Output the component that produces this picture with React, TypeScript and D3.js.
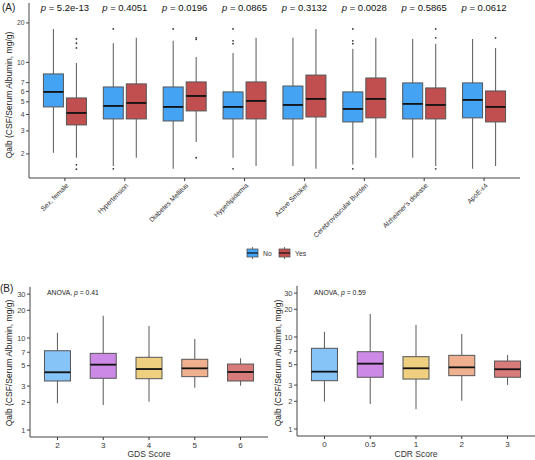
import React from "react";
import * as d3 from "d3";

// ---------- Panel A data ----------
const riskFactors = [
  "Sex, female", "Hypertension", "Diabetes Mellitus", "Hyperlipidemia",
  "Active Smoker", "Cerebrovascular Burden", "Alzheimer's disease", "ApoE-ε4",
];
const pValues = ["5.2e-13", "0.4051", "0.0196", "0.0865", "0.3132", "0.0028", "0.5865", "0.0612"];
const groups = ["No", "Yes"];
// [whiskerLow, q1, median, q3, whiskerHigh]
const statsNo = [
  [2.04, 4.57, 5.95, 8.16, 18.0],
  [1.62, 3.70, 4.65, 6.49, 14.0],
  [1.54, 3.57, 4.57, 6.49, 14.6],
  [1.87, 3.70, 4.57, 5.95, 11.8],
  [1.62, 3.70, 4.73, 6.60, 15.4],
  [1.66, 3.51, 4.41, 5.95, 12.7],
  [1.87, 3.70, 4.82, 6.97, 15.1],
  [1.54, 3.77, 5.17, 6.97, 15.1],
];
const statsYes = [
  [1.87, 3.33, 4.11, 5.35, 9.9],
  [1.87, 3.70, 4.90, 6.85, 15.4],
  [2.47, 4.26, 5.54, 7.09, 11.0],
  [1.62, 3.70, 5.08, 7.09, 15.4],
  [1.54, 3.83, 5.26, 8.0, 18.0],
  [1.87, 3.77, 5.26, 7.6, 15.4],
  [1.62, 3.70, 4.73, 6.38, 13.9],
  [1.62, 3.51, 4.57, 6.05, 12.9],
];
const outliersNo = [
  [],
  [18.0, 1.54],
  [18.0],
  [18.0, 14.6, 13.9, 1.54],
  [],
  [18.0, 14.6, 13.9, 1.54],
  [],
  [],
];
const outliersYes = [
  [15.1, 14.0, 12.9, 1.65, 1.53],
  [],
  [15.4, 15.0, 1.87],
  [],
  [],
  [],
  [18.0, 15.4, 1.54],
  [15.4],
];
const ticksA = [2, 3, 4, 5, 6, 7, 10, 20];

// ---------- Panel B data ----------
const gdsScores = ["2", "3", "4", "5", "6"];
const gdsStats = [
  [1.95, 3.41, 4.24, 7.27, 11.4],
  [1.87, 3.65, 5.13, 6.81, 17.5],
  [2.03, 3.61, 4.60, 6.17, 13.5],
  [2.88, 3.80, 4.68, 5.87, 9.75],
  [3.03, 3.41, 4.27, 5.21, 6.02],
];
const cdrScores = ["0", "0.5", "1", "2", "3"];
const cdrStats = [
  [1.98, 3.35, 4.20, 7.54, 11.4],
  [1.87, 3.65, 5.13, 6.92, 17.8],
  [1.64, 3.49, 4.57, 6.11, 13.5],
  [2.03, 3.80, 4.68, 6.32, 10.8],
  [3.01, 3.65, 4.46, 5.48, 6.37],
];
const anovaP = ["0.41", "0.59"];
const ticksB = [1, 2, 3, 5, 7, 10, 20, 30];
const scoreColors = ["#86c3f7", "#cc8ae6", "#efd080", "#efb090", "#d87b7b"];

const FONT = "'Liberation Sans', Arial, Helvetica, sans-serif";
const groupColors = ["#44a3f3", "#c24f4f"];
const yLabel = "Qalb (CSF/Serum Albumin, mg/g)";

function Box({ cx, w, s, y, fill }: { cx: number; w: number; s: number[]; y: (v: number) => number; fill: string }) {
  const [lo, q1, med, q3, hi] = s;
  return (
    <g>
      <line x1={cx} x2={cx} y1={y(hi)} y2={y(q3)} stroke="#666" strokeWidth={1.1} />
      <line x1={cx} x2={cx} y1={y(q1)} y2={y(lo)} stroke="#666" strokeWidth={1.1} />
      <rect x={cx - w / 2} y={y(q3)} width={w} height={y(q1) - y(q3)} fill={fill} stroke="#555" strokeWidth={1} />
      <line x1={cx - w / 2} x2={cx + w / 2} y1={y(med)} y2={y(med)} stroke="#111" strokeWidth={1.8} />
    </g>
  );
}

function PanelA() {
  const x0 = 29, x1 = 520;
  const step = (x1 - x0) / (riskFactors.length - 1 + 1.2);
  const x = d3.scalePoint<string>().domain(riskFactors).range([x0 + 0.6 * step, x1 - 0.6 * step]);
  const y = d3.scaleLog().domain([1.31, 28.4]).range([178, 3]);
  const off = 11.5;
  const bw = 20;
  return (
    <g>
      <text x={2} y={11} fontSize={10} fontFamily={FONT} fill="#222">(A)</text>
      {riskFactors.map((rf, i) => {
        const c = x(rf)!;
        return (
          <g key={rf}>
            <Box cx={c - off} w={bw} s={statsNo[i]} y={y} fill={groupColors[0]} />
            <Box cx={c + off} w={bw} s={statsYes[i]} y={y} fill={groupColors[1]} />
            {outliersNo[i].map((v, k) => (
              <circle key={"n" + k} cx={c - off} cy={y(v)} r={0.9} fill="#333" />
            ))}
            {outliersYes[i].map((v, k) => (
              <circle key={"y" + k} cx={c + off} cy={y(v)} r={0.9} fill="#333" />
            ))}
            <text x={c} y={11} fontSize={9.5} fontFamily={FONT} textAnchor="middle" fill="#111">
              <tspan fontStyle="italic">p</tspan> = {pValues[i]}
            </text>
            <line x1={c} x2={c} y1={178} y2={181} stroke="#333" />
            <text
              transform={`translate(${c + 4},${186}) rotate(-45)`}
              fontSize={6.8}
              fontFamily={FONT}
              textAnchor="end"
              fill="#333"
            >
              {rf}
            </text>
          </g>
        );
      })}
      <line x1={x0} x2={x0} y1={3} y2={178} stroke="#444" />
      <line x1={x0} x2={x1} y1={178} y2={178} stroke="#444" />
      {ticksA.map((t) => (
        <g key={t}>
          <line x1={26} x2={29} y1={y(t)} y2={y(t)} stroke="#444" />
          <text x={24.5} y={y(t) + 2.3} fontSize={6.8} fontFamily={FONT} textAnchor="end" fill="#444">{t}</text>
        </g>
      ))}
      <text transform={`translate(12,${95}) rotate(-90)`} fontSize={8.5} fontFamily={FONT} textAnchor="middle" fill="#222">
        {yLabel}
      </text>
      {/* legend */}
      {groups.map((g, i) => {
        const lx = i === 0 ? 247 : 279;
        return (
          <g key={g}>
            <line x1={lx + 5.5} x2={lx + 5.5} y1={247} y2={259} stroke="#666" />
            <rect x={lx} y={249} width={11} height={8} fill={groupColors[i]} stroke="#555" strokeWidth={0.8} />
            <line x1={lx} x2={lx + 11} y1={253} y2={253} stroke="#111" strokeWidth={1.2} />
            <text x={lx + 16} y={255.5} fontSize={6.8} fontFamily={FONT} fill="#333">{g}</text>
          </g>
        );
      })}
    </g>
  );
}

function PanelB({
  x0, x1, yOne, yTen, axisY, cats, stats, title, p, labelX, annX, showTag,
}: {
  x0: number; x1: number; yOne: number; yTen: number; axisY: number; cats: string[]; stats: number[][];
  title: string; p: string; labelX: number; annX: number; showTag: boolean;
}) {
  const step = (x1 - x0) / (cats.length - 1 + 1.2);
  const x = d3.scalePoint<string>().domain(cats).range([x0 + 0.6 * step, x1 - 0.6 * step]);
  const per = yOne - yTen;
  const y = d3.scaleLog().domain([1, 10]).range([yOne, yTen]);
  const top = yOne - per * Math.log10(36);
  return (
    <g>
      {showTag && <text x={0} y={292} fontSize={10} fontFamily={FONT} fill="#222">(B)</text>}
      <text x={annX} y={295} fontSize={6.8} fontFamily={FONT} fill="#222">
        ANOVA, <tspan fontStyle="italic">p</tspan> = {p}
      </text>
      {cats.map((c, i) => (
        <g key={c}>
          <Box cx={x(c)!} w={26} s={stats[i]} y={y} fill={scoreColors[i]} />
          <line x1={x(c)!} x2={x(c)!} y1={axisY} y2={axisY + 3} stroke="#333" />
          <text x={x(c)!} y={axisY + 11} fontSize={8} fontFamily={FONT} textAnchor="middle" fill="#333">{c}</text>
        </g>
      ))}
      <line x1={x0} x2={x0} y1={top} y2={axisY} stroke="#444" />
      <line x1={x0} x2={x1} y1={axisY} y2={axisY} stroke="#444" />
      {ticksB.map((t) => (
        <g key={t}>
          <line x1={x0 - 3} x2={x0} y1={y(t)} y2={y(t)} stroke="#444" />
          <text x={x0 - 4.5} y={y(t) + 2.6} fontSize={7.5} fontFamily={FONT} textAnchor="end" fill="#444">{t}</text>
        </g>
      ))}
      <text transform={`translate(${labelX},${363}) rotate(-90)`} fontSize={8.5} fontFamily={FONT} textAnchor="middle" fill="#222">
        {yLabel}
      </text>
      <text x={(x0 + x1) / 2} y={457} fontSize={8.5} fontFamily={FONT} textAnchor="middle" fill="#333">{title}</text>
    </g>
  );
}

export default function App() {
  return (
    <svg width={535} height={460} style={{ position: "absolute", left: 0, top: 0, background: "#fff" }}>
      <rect width={535} height={460} fill="#fff" />
      <PanelA />
      <PanelB x0={30} x1={268} yOne={430} yTen={338} axisY={437} cats={gdsScores} stats={gdsStats}
        title="GDS Score" p={anovaP[0]} labelX={12} annX={47} showTag={true} />
      <PanelB x0={297} x1={535} yOne={429} yTen={337} axisY={436} cats={cdrScores} stats={cdrStats}
        title="CDR Score" p={anovaP[1]} labelX={281} annX={314} showTag={false} />
    </svg>
  );
}
